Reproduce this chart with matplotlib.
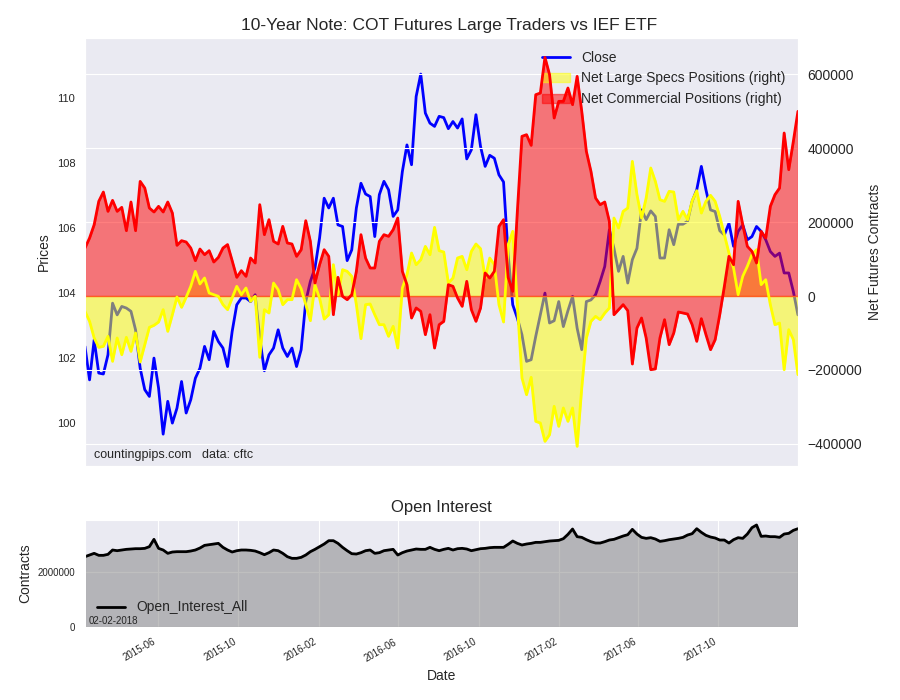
import pandas as pd
import matplotlib
matplotlib.use('Agg')
import matplotlib.pyplot as plt
import matplotlib.dates as mdates
import seaborn as sns

# weekly COT report dates (Tuesdays)
dates = pd.date_range('2015-02-10', periods=156, freq='7D')

# IEF close
close = [102.36, 101.33, 102.56, 101.54, 101.51, 102.10, 103.69, 103.33, 103.59, 103.54,
         103.44, 102.87, 101.69, 101.03, 100.82, 102.00, 101.08, 99.66, 100.67, 100.00,
         100.46, 101.28, 100.31, 100.72, 101.38, 101.69, 102.36, 101.95, 102.82, 102.51,
         102.31, 101.74, 102.82, 103.64, 103.85, 103.85, 103.74, 103.95, 102.62, 101.61,
         102.10, 102.31, 102.87, 102.31, 102.05, 102.31, 101.74, 102.26, 103.74, 104.36,
         104.77, 105.69, 106.92, 106.62, 106.92, 106.10, 106.05, 105.00, 105.33, 106.62,
         107.38, 107.05, 106.97, 105.74, 107.03, 107.44, 107.18, 106.36, 106.56, 107.74,
         108.56, 107.95, 110.05, 110.74, 109.54, 109.23, 109.13, 109.44, 109.40, 109.06,
         109.28, 109.08, 109.36, 108.13, 108.41, 109.49, 108.51, 107.90, 108.24, 108.15,
         107.64, 107.42, 105.18, 103.64, 103.23, 102.72, 101.90, 101.95, 102.67, 103.33,
         104.00, 103.08, 103.15, 103.74, 102.97, 103.46, 103.90, 102.92, 102.26, 103.74,
         103.79, 103.95, 104.36, 104.82, 105.95, 105.38, 104.67, 105.13, 104.31, 105.03,
         105.38, 106.56, 106.26, 106.53, 106.36, 105.08, 105.08, 105.95, 105.49, 106.12,
         106.12, 106.21, 106.82, 107.18, 107.90, 107.18, 106.56, 106.51, 105.92, 105.79,
         106.15, 105.44, 105.90, 106.10, 105.64, 105.74, 106.05, 105.90, 105.64, 105.28,
         105.13, 105.23, 104.62, 104.62, 104.05, 103.33]

# net large speculator positions
specs = [-41400, -68500, -113500, -138800, -136000, -109000, -176600, -113500, -158600, -111700,
         -149600, -100000, -178400, -131500, -84700, -79300, -70300, -36900, -95500, -50500,
         -2700, -30600, -3600, 26100, 66700, 32400, 48700, 8100, 3600, -900,
         -23400, -36900, -5400, 26100, 3600, 21600, -14400, -900, -165800, -36900,
         -46000, 35100, 17100, -23400, -9900, -9900, 44100, 19800, -23400, -66700,
         30600, -5400, -62200, -50500, 84700, 3600, 71200, 66700, 53200, -23400,
         -115300, -23400, -21600, -50500, -77500, -77500, -109000, -82000, -140600, 21600,
         57700, 116200, 84700, 98200, 134200, 111700, 185600, 122500, 118900, 35100,
         48700, 102700, 107200, 71200, 120700, 140600, 127900, 48700, 102700, 84700,
         -23400, -70300, 138800, 174800, -23400, -221600, -266700, -219800, -338800, -343300,
         -392800, -374800, -298200, -352300, -302700, -338800, -302700, -406400, -248700, -113500,
         -68500, -55000, -64000, -46000, -32400, 210800, 183800, 228900, 237900, 364000,
         273900, 210800, 264900, 346000, 310000, 260400, 255900, 282900, 281100, 206300,
         228900, 206300, 257700, 284700, 224300, 255900, 272100, 255900, 215300, 165800,
         116200, 75700, 3600, 53200, 80200, 111700, 125200, 30600, 44100, -23400,
         -77500, -73000, -199100, -91000, -118000, -212600]

# net commercial positions
comm = [129700, 156800, 192800, 255900, 281100, 228900, 258600, 228900, 239700, 176600,
        254100, 176600, 309900, 291900, 237900, 227100, 242400, 227100, 254100, 224300,
        137000, 149600, 146000, 129700, 95500, 127000, 111700, 122500, 91900, 104500,
        129700, 139000, 95500, 50500, 68500, 53200, 102700, 89200, 246900, 165800,
        206300, 147800, 140600, 188300, 143300, 140600, 107200, 125200, 203600, 147800,
        35100, 84700, 125200, 107200, -50500, 50500, -900, -9900, 3600, 66700,
        165800, 102700, 75700, 75700, 147800, 165800, 161300, 179300, 210800, 66700,
        30600, -59500, -32400, -41400, -104500, -50500, -140600, -77500, -68500, 30600,
        26100, -5400, -27900, 39600, -36900, -68500, -32400, 62200, 48700, 66700,
        188300, 206300, 50000, 12600, 228900, 431600, 436100, 407300, 544200, 548700,
        645100, 598300, 481100, 526200, 526200, 562200, 517200, 593800, 499200, 391000,
        337000, 264900, 246900, 254100, 201800, -50500, -36900, -23400, -39600, -183800,
        -86500, -59500, -113500, -199100, -197000, -113500, -64000, -131500, -100000, -43200,
        -46000, -48700, -77500, -122500, -61300, -104500, -145100, -118000, -50500, 26100,
        107200, 84700, 255900, 192800, 134200, 120700, 89200, 174800, 156800, 242400,
        273900, 291900, 440600, 341500, 418100, 499200]

# open interest
open_int = [2557000, 2618000, 2679000, 2606000, 2606000, 2642000, 2800000, 2775000, 2800000, 2824000,
            2836000, 2848000, 2848000, 2860000, 2921000, 3188000, 2860000, 2800000, 2679000, 2727000,
            2739000, 2739000, 2739000, 2763000, 2800000, 2872000, 2969000, 2994000, 3018000, 3042000,
            2897000, 2800000, 2727000, 2775000, 2800000, 2800000, 2788000, 2763000, 2703000, 2630000,
            2703000, 2800000, 2775000, 2679000, 2557000, 2497000, 2497000, 2533000, 2618000, 2739000,
            2824000, 2921000, 3018000, 3139000, 3139000, 3042000, 2897000, 2775000, 2666000, 2654000,
            2703000, 2775000, 2800000, 2679000, 2703000, 2775000, 2800000, 2824000, 2618000, 2703000,
            2763000, 2800000, 2836000, 2824000, 2824000, 2897000, 2824000, 2775000, 2824000, 2860000,
            2800000, 2848000, 2860000, 2836000, 2775000, 2812000, 2848000, 2860000, 2885000, 2897000,
            2897000, 2897000, 3006000, 3127000, 3042000, 2982000, 3018000, 3042000, 3078000, 3078000,
            3103000, 3127000, 3139000, 3151000, 3212000, 3369000, 3563000, 3285000, 3260000, 3175000,
            3103000, 3054000, 3054000, 3103000, 3163000, 3188000, 3248000, 3309000, 3357000, 3551000,
            3381000, 3260000, 3224000, 3248000, 3200000, 3115000, 3139000, 3175000, 3200000, 3224000,
            3260000, 3345000, 3394000, 3575000, 3442000, 3333000, 3272000, 3236000, 3163000, 3163000,
            3054000, 3175000, 3248000, 3224000, 3381000, 3612000, 3709000, 3297000, 3309000, 3285000,
            3285000, 3260000, 3381000, 3406000, 3515000, 3575000]

sns.set_style('darkgrid')
plt.rcParams['font.family'] = ['Liberation Sans', 'DejaVu Sans']

fig = plt.figure(figsize=(9, 7), dpi=100)

# price panel
ax1 = fig.add_axes([0.0944, 0.3343, 0.7922, 0.6114])
ax1.plot(dates, close, color='blue', lw=2, label='Close')
ax1.set_xlim(dates[0], dates[-1])
ax1.set_ylim(98.68, 111.85)
ax1.grid(False)
ax1.set_ylabel('Prices', fontsize=10)
ax1.tick_params(axis='y', labelsize=8, pad=7, length=0)
ax1.tick_params(axis='x', labelbottom=False, length=0)
ax1.set_title('10-Year Note: COT Futures Large Traders vs IEF ETF', fontsize=12.5, x=0.51)
ax1.text(0.012, 0.012, 'countingpips.com   data: cftc', transform=ax1.transAxes,
         fontsize=9, va='bottom', ha='left')

# positions on the right axis
ax2 = ax1.twinx()
f_spec = ax2.fill_between(dates, 0, specs, color='yellow', alpha=0.5,
                          label='Net Large Specs Positions (right)')
ax2.plot(dates, specs, color='yellow', lw=2)
f_comm = ax2.fill_between(dates, 0, comm, color='red', alpha=0.5,
                          label='Net Commercial Positions (right)')
ax2.plot(dates, comm, color='red', lw=2)
ax2.set_xlim(dates[0], dates[-1])
ax2.set_ylim(-459500, 697400)
ax2.set_yticks(range(-400000, 600001, 200000))
ax2.xaxis.grid(False)
ax2.yaxis.grid(True, color='white')
ax2.tick_params(axis='y', labelsize=10, pad=7, length=0)
ax2.set_ylabel('Net Futures Contracts', fontsize=10)

h1, l1 = ax1.get_legend_handles_labels()
leg = ax2.legend(h1 + [f_spec, f_comm], l1 + [f_spec.get_label(), f_comm.get_label()],
                 loc='upper right', frameon=False, fontsize=10)
leg.set_zorder(1.5)

# open interest panel
ax3 = fig.add_axes([0.0944, 0.1043, 0.7922, 0.1528])
ax3.fill_between(dates, 0, open_int, color='gray', alpha=0.5)
ax3.plot(dates, open_int, color='black', lw=2, label='Open_Interest_All')
ax3.set_xlim(dates[0], dates[-1])
ax3.set_ylim(0, 3890000)
ax3.set_yticks([0, 2000000])
ax3.ticklabel_format(style='plain', axis='y')
ax3.xaxis.set_major_locator(mdates.MonthLocator(bymonth=[2, 6, 10]))
ax3.xaxis.set_major_formatter(mdates.DateFormatter('%Y-%m'))
plt.setp(ax3.get_xticklabels(), rotation=30, ha='right', fontsize=7)
ax3.tick_params(axis='y', labelsize=7, pad=7, length=0)
ax3.tick_params(axis='x', pad=7, length=0)
ax3.set_title('Open Interest', fontsize=12)
ax3.set_xlabel('Date', fontsize=10)
ax3.set_ylabel('Contracts', fontsize=10)
ax3.legend(loc='lower left', frameon=False, fontsize=10)
ax3.text(0.005, 0.01, '02-02-2018', transform=ax3.transAxes, fontsize=7, va='bottom')

fig.savefig('out.png', dpi=100)
